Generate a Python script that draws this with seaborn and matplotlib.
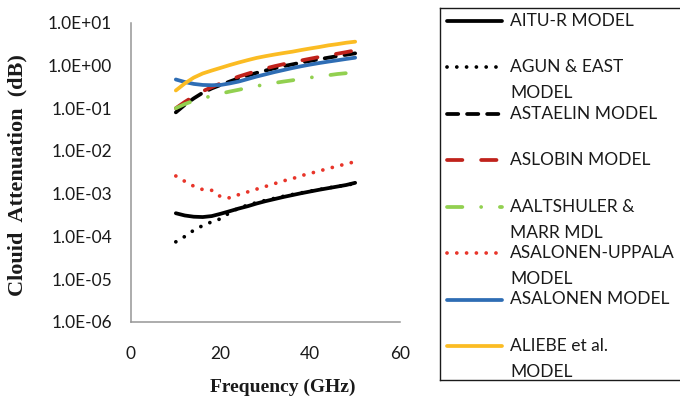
import matplotlib
matplotlib.use("Agg")
import matplotlib.pyplot as plt
import numpy as np
import pandas as pd
import seaborn as sns
from matplotlib.ticker import MultipleLocator, FixedLocator, FuncFormatter, NullLocator

# frequency (GHz) and attenuation (dB)
freq = [10, 12, 14, 16, 18, 20, 22, 24, 26, 28, 30, 32, 34, 36, 38, 40, 42, 44, 46, 48, 50]

aitu_r = [3.5e-4, 3.1e-4, 2.9e-4, 2.85e-4, 3.0e-4, 3.4e-4, 3.9e-4, 4.5e-4, 5.1e-4, 5.9e-4, 6.7e-4,
          7.5e-4, 8.4e-4, 9.3e-4, 1.03e-3, 1.13e-3, 1.24e-3, 1.35e-3, 1.47e-3, 1.6e-3, 1.8e-3]
agun_east = [7.5e-5, 1.0e-4, 1.4e-4, 1.8e-4, 2.2e-4, 2.6e-4, 3.6e-4, 4.6e-4, 5.4e-4, 6.2e-4, 7.0e-4,
             7.8e-4, 8.7e-4, 9.6e-4, 1.05e-3, 1.15e-3, 1.25e-3, 1.37e-3, 1.48e-3, 1.6e-3, 1.72e-3]
astaelin = [0.08, 0.12, 0.17, 0.23, 0.29, 0.35, 0.42, 0.50, 0.58, 0.67, 0.76,
            0.86, 0.96, 1.06, 1.17, 1.28, 1.40, 1.52, 1.65, 1.78, 1.92]
aslobin = [0.10, 0.14, 0.19, 0.25, 0.31, 0.38, 0.46, 0.55, 0.64, 0.74, 0.85,
           0.96, 1.07, 1.19, 1.31, 1.44, 1.58, 1.73, 1.88, 2.05, 2.25]
aaltshuler = [0.10, 0.125, 0.15, 0.17, 0.195, 0.22, 0.245, 0.27, 0.30, 0.33, 0.36,
              0.39, 0.42, 0.45, 0.49, 0.52, 0.56, 0.59, 0.63, 0.66, 0.70]
asalonen_uppala = [2.6e-3, 1.95e-3, 1.5e-3, 1.25e-3, 1.2e-3, 8.5e-4, 8.0e-4, 9.5e-4, 1.1e-3, 1.28e-3, 1.48e-3,
                   1.72e-3, 2.0e-3, 2.25e-3, 2.65e-3, 3.0e-3, 3.4e-3, 3.9e-3, 4.4e-3, 5.0e-3, 5.6e-3]
asalonen = [0.47, 0.41, 0.37, 0.35, 0.345, 0.35, 0.38, 0.42, 0.48, 0.55, 0.62,
            0.70, 0.78, 0.87, 0.96, 1.05, 1.14, 1.23, 1.32, 1.42, 1.52]
aliebe = [0.26, 0.38, 0.52, 0.65, 0.76, 0.88, 1.02, 1.17, 1.33, 1.50, 1.65,
          1.80, 1.95, 2.10, 2.30, 2.50, 2.70, 2.95, 3.15, 3.40, 3.60]

models = ["AITU-R MODEL", "AGUN & EAST MODEL", "ASTAELIN MODEL", "ASLOBIN MODEL",
          "AALTSHULER & MARR MDL", "ASALONEN-UPPALA MODEL", "ASALONEN MODEL", "ALIEBE et al. MODEL"]
series = [aitu_r, agun_east, astaelin, aslobin, aaltshuler, asalonen_uppala, asalonen, aliebe]
# legend text as it wraps in the box
legend_lines = [["AITU-R MODEL"], ["AGUN & EAST", "MODEL"], ["ASTAELIN MODEL"], ["ASLOBIN MODEL"],
                ["AALTSHULER &", "MARR MDL"], ["ASALONEN-UPPALA", "MODEL"], ["ASALONEN MODEL"],
                ["ALIEBE et al.", "MODEL"]]

colors = ["#000000", "#000000", "#000000", "#C0221B", "#92D050", "#E8352A", "#2E6DB4", "#FBBC23"]
dashes = ["", (0.01, 2.6), (3.0, 2.35), (4.1, 5.0), (4.1, 5.0, 0.01, 5.0), (0.01, 2.6), "", ""]

sns.set_style("white")
plt.rcParams["font.family"] = ["Lato", "DejaVu Sans"]
plt.rcParams["lines.dash_capstyle"] = "round"
plt.rcParams["lines.solid_capstyle"] = "round"

rows = []
for m, vals in zip(models, series):
    for f, v in zip(freq, vals):
        rows.append({"Frequency": f, "Attenuation": v, "Model": m})
df = pd.DataFrame(rows)

fig = plt.figure(figsize=(6.8, 4.01), dpi=100)
ax = fig.add_axes([131 / 680, 1 - 322 / 401, 269 / 680, 299.3 / 401])

sns.lineplot(data=df, x="Frequency", y="Attenuation", hue="Model", style="Model",
             hue_order=models, style_order=models,
             palette=dict(zip(models, colors)), dashes=dict(zip(models, dashes)),
             linewidth=2.7, legend=False, ax=ax)

ax.set_yscale("log")
ax.set_ylim(1e-6, 1e1)
ax.set_xlim(0, 60)
ax.yaxis.set_major_locator(FixedLocator([10.0 ** k for k in range(-6, 2)]))
ax.yaxis.set_minor_locator(NullLocator())
ax.yaxis.set_major_formatter(FuncFormatter(lambda v, p: f"{v:.1E}"))
ax.xaxis.set_major_locator(MultipleLocator(20))
ax.xaxis.set_minor_locator(MultipleLocator(4))

grey = "#969696"
for s in ["top", "right"]:
    ax.spines[s].set_visible(False)
for s in ["left", "bottom"]:
    ax.spines[s].set_color(grey)
    ax.spines[s].set_linewidth(1.1)
ax.tick_params(axis="y", which="major", direction="out", length=4.5, width=1.1, color=grey,
               pad=9, labelsize=12.5, labelcolor="#1a1a1a")
ax.tick_params(axis="x", which="major", direction="out", length=5, width=1.1, color=grey,
               pad=12.5, labelsize=12.5, labelcolor="#1a1a1a")
ax.tick_params(axis="x", which="minor", direction="out", length=2.5, width=1.1, color=grey)

ax.set_xlabel("Frequency (GHz)", family="Liberation Serif", fontweight="bold", fontsize=14, color="#1a1a1a")
ax.xaxis.set_label_coords(0.565, -0.19)
ax.set_ylabel("Clouid  Attenuation  (dB)", family="Liberation Serif", fontweight="bold", fontsize=16,
              color="#1a1a1a")
ax.yaxis.set_label_coords(-0.385, 0.49)

# legend box drawn in pixel coordinates, right edge runs off the figure
lax = fig.add_axes([440 / 680, 21 / 401, 260 / 680, 372 / 401])
lax.set_xlim(440, 700)
lax.set_ylim(380, 8)
lax.set_xticks([])
lax.set_yticks([])
for s in lax.spines.values():
    s.set_color("#1a1a1a")
    s.set_linewidth(1.0)
for i, (lines, c, d) in enumerate(zip(legend_lines, colors, dashes)):
    y0 = 8 + i * 46.5 + 12.5
    ln, = lax.plot([447, 502], [y0, y0], color=c, linewidth=2.7)
    if d:
        ln.set_dashes(d)
    for j, t in enumerate(lines):
        lax.text(510, y0 + j * 26, t, fontsize=12.5, va="center", ha="left", color="#1a1a1a")

fig.savefig("out.png", dpi=100)
